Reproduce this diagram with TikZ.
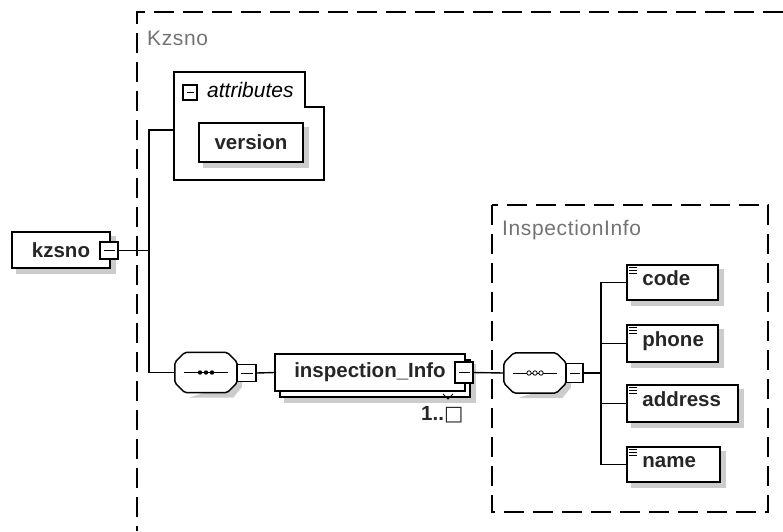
\documentclass[tikz,border=0pt]{standalone}
\usepackage{fontspec}
\setmainfont{Liberation Sans}
\newfontfamily\lblfont{Liberation Sans}[LetterSpace=3]
\newfontfamily\symfont{DejaVu Sans}
\usetikzlibrary{backgrounds}
\begin{document}
\begin{tikzpicture}[x=1pt,y=-1pt,
  conn/.style={line width=1.4pt},
  dashbox/.style={line width=1.3pt, dash pattern=on 20pt off 9pt},
  lbl/.style={font=\fontsize{21}{25}\lblfont, text=black!55, inner sep=0pt},
  bold/.style={font=\fontsize{20.5}{24}\selectfont\bfseries, text=black!85},
  shadowfill/.style={fill=black!20},
  elem/.style={draw, line width=1.6pt, fill=white, inner sep=0pt},
  expbox/.style={draw, line width=1.2pt, fill=white, inner sep=0pt,
    path picture={\draw[line width=1pt] ([xshift=3.5pt]path picture bounding box.west) -- ([xshift=-3.5pt]path picture bounding box.east);}},
  seqbox/.style={minimum width=62pt, minimum height=40pt, inner sep=0pt},
  octa/.style={draw, line width=1.5pt, fill=white, rounded corners=2pt},
  eltext/.style={font=\fontsize{20.5}{24}\selectfont\bfseries, text=black!85, inner sep=0pt, anchor=mid west},
  icon/.style={line width=0.8pt}
]
\useasboundingbox (0,0) rectangle (783,531);

\newcommand\octagon[1]{%
  \fill[shadowfill] ([shift={(14,5)}]#1.south west) -- ([shift={(-4,5)}]#1.south east) -- ([shift={(5,-6)}]#1.south east) -- ([shift={(5,8)}]#1.east) -- cycle;
  \draw[octa] ([shift={(10,0)}]#1.north west) -- ([shift={(-10,0)}]#1.north east) -- ([shift={(0,10)}]#1.north east)
    -- ([shift={(0,-10)}]#1.south east) -- ([shift={(-10,0)}]#1.south east) -- ([shift={(10,0)}]#1.south west)
    -- ([shift={(0,-10)}]#1.south west) -- ([shift={(0,10)}]#1.north west) -- cycle;
  \draw[line width=1pt] ([xshift=9pt]#1.west) -- ([xshift=-9pt]#1.east);}
\newcommand\shadowof[1]{\fill[shadowfill] ([shift={(5,5)}]#1.north west) rectangle ([shift={(5,5)}]#1.south east);}

% outer dashed group
\draw[dashbox] (783,12) -- (137,12) -- (137,531);
\node[lbl, anchor=base west] (kzl) at (147,45) {Kzsno};

% attributes
\node[font=\fontsize{21}{25}\selectfont\itshape, anchor=base west, inner sep=0pt] (attrl) at (207,97) {attributes};
\node[expbox, minimum width=14pt, minimum height=15pt] (amin) at (190,92.5) {};
\node[elem, minimum width=104pt, minimum height=39pt, bold] (ver) at (251,142.5) {version};
\coordinate (attrw) at (174,130);
\coordinate (ktop) at (149,130);

% root
\node[elem, minimum width=98pt, minimum height=36pt, bold] (kz) at (61,250) {kzsno};
\node[expbox, minimum width=18pt, minimum height=17pt] (kzexp) at (109,250.5) {};

% sequence 1
\node[seqbox] (seq1) at (206,372.5) {};
\octagon{seq1}
\foreach \dx in {-6,0,6} \fill ([xshift=\dx pt]seq1.center) circle (2.2);
\node[expbox, minimum width=19pt, minimum height=17pt] (seq1exp) at (246.5,373) {};

% inspection_Info (multiple)
\node[elem, minimum width=190pt, minimum height=37pt] (insback) at (375,378.5) {};
\node[elem, minimum width=190pt, minimum height=37pt, bold] (ins) at (370,372.5) {inspection\_Info};
\node[expbox, minimum width=18pt, minimum height=21pt] (insexp) at (464,372.5) {};
\draw[line width=0.8pt] (443,394) -- (448,399) -- (453,394);
\node[font=\fontsize{20.5}{24}\selectfont\bfseries, text=black!85, anchor=base west, inner sep=0pt] (occ) at (421,420) {1..{\symfont\mdseries □}};

% InspectionInfo group
\draw[dashbox] (492,205) rectangle (768,512);
\node[lbl, anchor=base west] (iil) at (502,235) {InspectionInfo};

% sequence 2
\node[seqbox] (seq2) at (535,373) {};
\octagon{seq2}
\foreach \dx in {-6,0,6} \draw[line width=0.8pt, fill=white] ([xshift=\dx pt]seq2.center) circle (2.2);
\node[expbox, minimum width=17pt, minimum height=19pt] (seq2exp) at (574.5,373) {};
\coordinate (br) at (601,373);

% child elements
\node[elem, minimum width=91pt, minimum height=35pt] (code) at (672.5,282.5) {};
\node[elem, minimum width=91pt, minimum height=37pt] (phone) at (672.5,343.5) {};
\node[elem, minimum width=111pt, minimum height=37pt] (address) at (682.5,403.5) {};
\node[elem, minimum width=93pt, minimum height=35pt] (name) at (673.5,464.5) {};
\foreach \n in {code,phone,address,name} {
  \node[eltext] (\n t) at ([xshift=16pt]\n.west) {\n};
  \foreach \dy in {3,6,9} \draw[icon] ([shift={(3,\dy)}]\n.north west) -- ++(8,0);
}

% attributes box and shadows behind everything
\begin{scope}[on background layer]
  \draw[line width=1.5pt, fill=white] (174,180) -- (174,72) -- (305,72) -- (305,107) -- (324,107) -- (324,180) -- cycle;
  \foreach \n in {ver,kz,insback,code,phone,address,name} {\shadowof{\n}}
\end{scope}

% connectors
\draw[conn] (kzexp.east) -- (kzexp.east -| ktop);
\draw[conn] (attrw) -- (ktop) |- (seq1.west);
\draw[conn] (seq1exp.east) -- (ins.west);
\draw[conn] (insexp.east) -- (seq2.west);
\draw[line width=1.8pt] (seq2exp.east) -- (br);
\foreach \n in {code,phone,address,name} \draw[conn] (\n.west) -| (br);
\end{tikzpicture}
\end{document}
